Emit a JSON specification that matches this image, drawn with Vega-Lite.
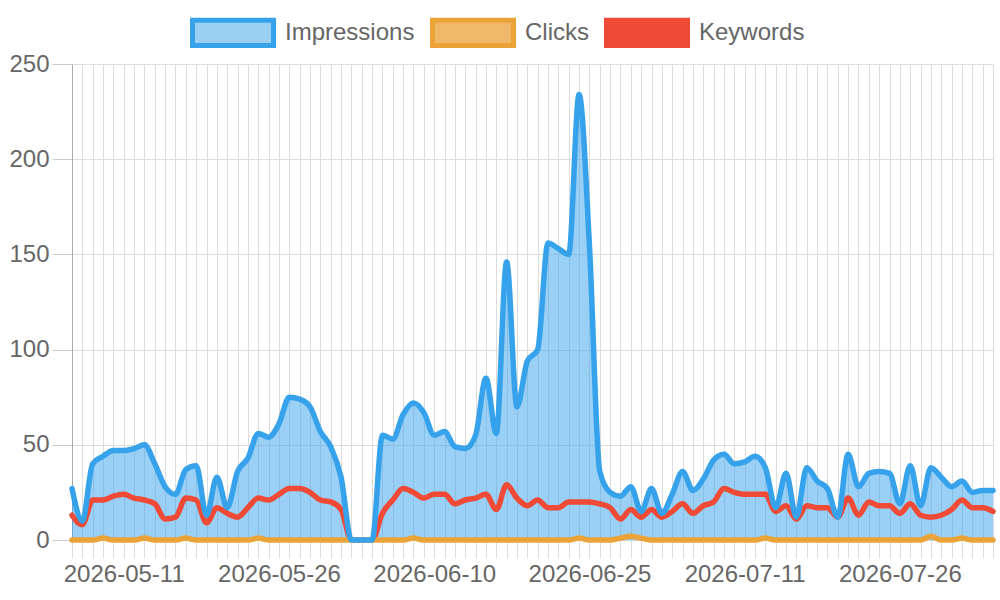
{
  "$schema": "https://vega.github.io/schema/vega-lite/v6.json",
  "width": 921,
  "height": 476,
  "autosize": {"type": "none"},
  "padding": {"left": 72, "top": 64, "right": 7, "bottom": 60},
  "background": "white",
  "config": {
    "font": "Liberation Sans",
    "view": {"stroke": null},
    "legend": {
      "orient": "none",
      "legendX": 106,
      "legendY": -46,
      "direction": "horizontal",
      "padding": 0,
      "symbolType": "M0,-1.05H6.75V1.05H0Z",
      "symbolSize": 576,
      "symbolStrokeWidth": 5,
      "labelFont": "Liberation Sans",
      "labelFontSize": 24,
      "labelColor": "#666666",
      "labelOffset": 78,
      "columnPadding": 3
    }
  },
  "data": {
    "values": [
      {"date": "2026-05-06", "Impressions": 27, "Clicks": 0, "Keywords": 13},
      {"date": "2026-05-07", "Impressions": 10, "Clicks": 0, "Keywords": 8},
      {"date": "2026-05-08", "Impressions": 40, "Clicks": 0, "Keywords": 21},
      {"date": "2026-05-09", "Impressions": 44, "Clicks": 1, "Keywords": 21},
      {"date": "2026-05-10", "Impressions": 47, "Clicks": 0, "Keywords": 23},
      {"date": "2026-05-11", "Impressions": 47, "Clicks": 0, "Keywords": 24},
      {"date": "2026-05-12", "Impressions": 48, "Clicks": 0, "Keywords": 22},
      {"date": "2026-05-13", "Impressions": 50, "Clicks": 1, "Keywords": 21},
      {"date": "2026-05-14", "Impressions": 40, "Clicks": 0, "Keywords": 19},
      {"date": "2026-05-15", "Impressions": 28, "Clicks": 0, "Keywords": 11},
      {"date": "2026-05-16", "Impressions": 24, "Clicks": 0, "Keywords": 12},
      {"date": "2026-05-17", "Impressions": 37, "Clicks": 1, "Keywords": 22},
      {"date": "2026-05-18", "Impressions": 39, "Clicks": 0, "Keywords": 21},
      {"date": "2026-05-19", "Impressions": 13, "Clicks": 0, "Keywords": 9},
      {"date": "2026-05-20", "Impressions": 33, "Clicks": 0, "Keywords": 17},
      {"date": "2026-05-21", "Impressions": 17, "Clicks": 0, "Keywords": 14},
      {"date": "2026-05-22", "Impressions": 36, "Clicks": 0, "Keywords": 12},
      {"date": "2026-05-23", "Impressions": 43, "Clicks": 0, "Keywords": 17},
      {"date": "2026-05-24", "Impressions": 56, "Clicks": 1, "Keywords": 22},
      {"date": "2026-05-25", "Impressions": 54, "Clicks": 0, "Keywords": 21},
      {"date": "2026-05-26", "Impressions": 61, "Clicks": 0, "Keywords": 24},
      {"date": "2026-05-27", "Impressions": 75, "Clicks": 0, "Keywords": 27},
      {"date": "2026-05-28", "Impressions": 74, "Clicks": 0, "Keywords": 27},
      {"date": "2026-05-29", "Impressions": 70, "Clicks": 0, "Keywords": 25},
      {"date": "2026-05-30", "Impressions": 57, "Clicks": 0, "Keywords": 21},
      {"date": "2026-05-31", "Impressions": 49, "Clicks": 0, "Keywords": 20},
      {"date": "2026-06-01", "Impressions": 33, "Clicks": 0, "Keywords": 16},
      {"date": "2026-06-02", "Impressions": 0, "Clicks": 0, "Keywords": 0},
      {"date": "2026-06-03", "Impressions": 0, "Clicks": 0, "Keywords": 0},
      {"date": "2026-06-04", "Impressions": 0, "Clicks": 0, "Keywords": 0},
      {"date": "2026-06-05", "Impressions": 55, "Clicks": 0, "Keywords": 14},
      {"date": "2026-06-06", "Impressions": 53, "Clicks": 0, "Keywords": 21},
      {"date": "2026-06-07", "Impressions": 66, "Clicks": 0, "Keywords": 27},
      {"date": "2026-06-08", "Impressions": 72, "Clicks": 1, "Keywords": 25},
      {"date": "2026-06-09", "Impressions": 67, "Clicks": 0, "Keywords": 22},
      {"date": "2026-06-10", "Impressions": 55, "Clicks": 0, "Keywords": 24},
      {"date": "2026-06-11", "Impressions": 57, "Clicks": 0, "Keywords": 24},
      {"date": "2026-06-12", "Impressions": 49, "Clicks": 0, "Keywords": 19},
      {"date": "2026-06-13", "Impressions": 48, "Clicks": 0, "Keywords": 21},
      {"date": "2026-06-14", "Impressions": 55, "Clicks": 0, "Keywords": 22},
      {"date": "2026-06-15", "Impressions": 85, "Clicks": 0, "Keywords": 24},
      {"date": "2026-06-16", "Impressions": 56, "Clicks": 0, "Keywords": 16},
      {"date": "2026-06-17", "Impressions": 146, "Clicks": 0, "Keywords": 29},
      {"date": "2026-06-18", "Impressions": 70, "Clicks": 0, "Keywords": 22},
      {"date": "2026-06-19", "Impressions": 94, "Clicks": 0, "Keywords": 18},
      {"date": "2026-06-20", "Impressions": 100, "Clicks": 0, "Keywords": 21},
      {"date": "2026-06-21", "Impressions": 156, "Clicks": 0, "Keywords": 17},
      {"date": "2026-06-22", "Impressions": 153, "Clicks": 0, "Keywords": 17},
      {"date": "2026-06-23", "Impressions": 150, "Clicks": 0, "Keywords": 20},
      {"date": "2026-06-24", "Impressions": 234, "Clicks": 1, "Keywords": 20},
      {"date": "2026-06-25", "Impressions": 155, "Clicks": 0, "Keywords": 20},
      {"date": "2026-06-26", "Impressions": 36, "Clicks": 0, "Keywords": 19},
      {"date": "2026-06-27", "Impressions": 25, "Clicks": 0, "Keywords": 17},
      {"date": "2026-06-28", "Impressions": 23, "Clicks": 1, "Keywords": 11},
      {"date": "2026-06-29", "Impressions": 28, "Clicks": 2, "Keywords": 16},
      {"date": "2026-06-30", "Impressions": 15, "Clicks": 1, "Keywords": 12},
      {"date": "2026-07-02", "Impressions": 27, "Clicks": 0, "Keywords": 16},
      {"date": "2026-07-03", "Impressions": 14, "Clicks": 0, "Keywords": 12},
      {"date": "2026-07-04", "Impressions": 24, "Clicks": 0, "Keywords": 15},
      {"date": "2026-07-05", "Impressions": 36, "Clicks": 0, "Keywords": 19},
      {"date": "2026-07-06", "Impressions": 26, "Clicks": 0, "Keywords": 14},
      {"date": "2026-07-07", "Impressions": 32, "Clicks": 0, "Keywords": 18},
      {"date": "2026-07-08", "Impressions": 42, "Clicks": 0, "Keywords": 20},
      {"date": "2026-07-09", "Impressions": 45, "Clicks": 0, "Keywords": 27},
      {"date": "2026-07-10", "Impressions": 40, "Clicks": 0, "Keywords": 25},
      {"date": "2026-07-11", "Impressions": 41, "Clicks": 0, "Keywords": 24},
      {"date": "2026-07-12", "Impressions": 44, "Clicks": 0, "Keywords": 24},
      {"date": "2026-07-13", "Impressions": 38, "Clicks": 1, "Keywords": 24},
      {"date": "2026-07-14", "Impressions": 17, "Clicks": 0, "Keywords": 15},
      {"date": "2026-07-15", "Impressions": 35, "Clicks": 0, "Keywords": 18},
      {"date": "2026-07-16", "Impressions": 12, "Clicks": 0, "Keywords": 11},
      {"date": "2026-07-17", "Impressions": 38, "Clicks": 0, "Keywords": 18},
      {"date": "2026-07-18", "Impressions": 31, "Clicks": 0, "Keywords": 17},
      {"date": "2026-07-19", "Impressions": 27, "Clicks": 0, "Keywords": 17},
      {"date": "2026-07-20", "Impressions": 12, "Clicks": 0, "Keywords": 12},
      {"date": "2026-07-21", "Impressions": 45, "Clicks": 0, "Keywords": 22},
      {"date": "2026-07-22", "Impressions": 28, "Clicks": 0, "Keywords": 13},
      {"date": "2026-07-23", "Impressions": 35, "Clicks": 0, "Keywords": 20},
      {"date": "2026-07-24", "Impressions": 36, "Clicks": 0, "Keywords": 18},
      {"date": "2026-07-25", "Impressions": 35, "Clicks": 0, "Keywords": 18},
      {"date": "2026-07-26", "Impressions": 19, "Clicks": 0, "Keywords": 14},
      {"date": "2026-07-27", "Impressions": 39, "Clicks": 0, "Keywords": 19},
      {"date": "2026-07-28", "Impressions": 18, "Clicks": 0, "Keywords": 13},
      {"date": "2026-07-29", "Impressions": 38, "Clicks": 2, "Keywords": 12},
      {"date": "2026-07-30", "Impressions": 33, "Clicks": 0, "Keywords": 13},
      {"date": "2026-07-31", "Impressions": 28, "Clicks": 0, "Keywords": 16},
      {"date": "2026-08-01", "Impressions": 31, "Clicks": 1, "Keywords": 21},
      {"date": "2026-08-02", "Impressions": 25, "Clicks": 0, "Keywords": 17},
      {"date": "2026-08-03", "Impressions": 26, "Clicks": 0, "Keywords": 17},
      {"date": "2026-08-04", "Impressions": 26, "Clicks": 0, "Keywords": 15}
    ]
  },
  "transform": [
    {"fold": ["Impressions", "Clicks", "Keywords"], "as": ["series", "value"]}
  ],
  "encoding": {
    "x": {
      "field": "date",
      "type": "ordinal",
      "sort": null,
      "scale": {"type": "point", "padding": 0},
      "axis": {
        "title": null,
        "grid": true,
        "gridColor": "#dcdcdc",
        "tickSize": 18,
        "tickColor": "#dcdcdc",
        "domainColor": "#d0d0d0",
        "labelAngle": 0,
        "labelOverlap": false,
        "labelPadding": 4,
        "labelFontSize": 24,
        "labelColor": "#666666",
        "labelExpr": "indexof(['2026-05-11','2026-05-26','2026-06-10','2026-06-25','2026-07-11','2026-07-26'], datum.value) >= 0 ? datum.value : ''"
      }
    },
    "y": {
      "field": "value",
      "type": "quantitative",
      "scale": {"domain": [0, 250], "nice": false},
      "axis": {
        "title": null,
        "values": [0, 50, 100, 150, 200, 250],
        "grid": true,
        "gridColor": "#dcdcdc",
        "tickSize": 20,
        "tickColor": "#cccccc",
        "domainColor": "#aaaaaa",
        "labelPadding": 3,
        "labelFontSize": 24,
        "labelColor": "#666666"
      }
    }
  },
  "layer": [
    {
      "transform": [{"filter": "datum.series === 'Impressions'"}],
      "mark": {"type": "area", "interpolate": "monotone", "fill": "#36A2EB", "fillOpacity": 0.5}
    },
    {
      "transform": [{"filter": "datum.series === 'Keywords'"}],
      "mark": {"type": "line", "interpolate": "monotone", "strokeWidth": 5.5, "strokeJoin": "round", "strokeCap": "round"},
      "encoding": {
        "stroke": {
          "field": "series",
          "type": "nominal",
          "title": null,
          "scale": {"domain": ["Impressions", "Clicks", "Keywords"], "range": ["#36A2EB", "#EBA337", "#EE4A36"]},
          "legend": {
            "encode": {
              "symbols": {
                "update": {
                  "fill": {"signal": "datum.value === 'Impressions' ? '#9BD0F5' : datum.value === 'Clicks' ? '#F0B96A' : '#EE4A36'"},
                  "fillOpacity": {"value": 1}
                }
              }
            }
          }
        }
      }
    },
    {
      "transform": [{"filter": "datum.series === 'Clicks'"}],
      "mark": {"type": "line", "interpolate": "monotone", "strokeWidth": 5.5, "strokeJoin": "round", "strokeCap": "round"},
      "encoding": {
        "stroke": {"field": "series", "type": "nominal", "title": null}
      }
    },
    {
      "transform": [{"filter": "datum.series === 'Impressions'"}],
      "mark": {"type": "line", "interpolate": "monotone", "strokeWidth": 5.5, "strokeJoin": "round", "strokeCap": "round"},
      "encoding": {
        "stroke": {"field": "series", "type": "nominal", "title": null}
      }
    }
  ]
}
